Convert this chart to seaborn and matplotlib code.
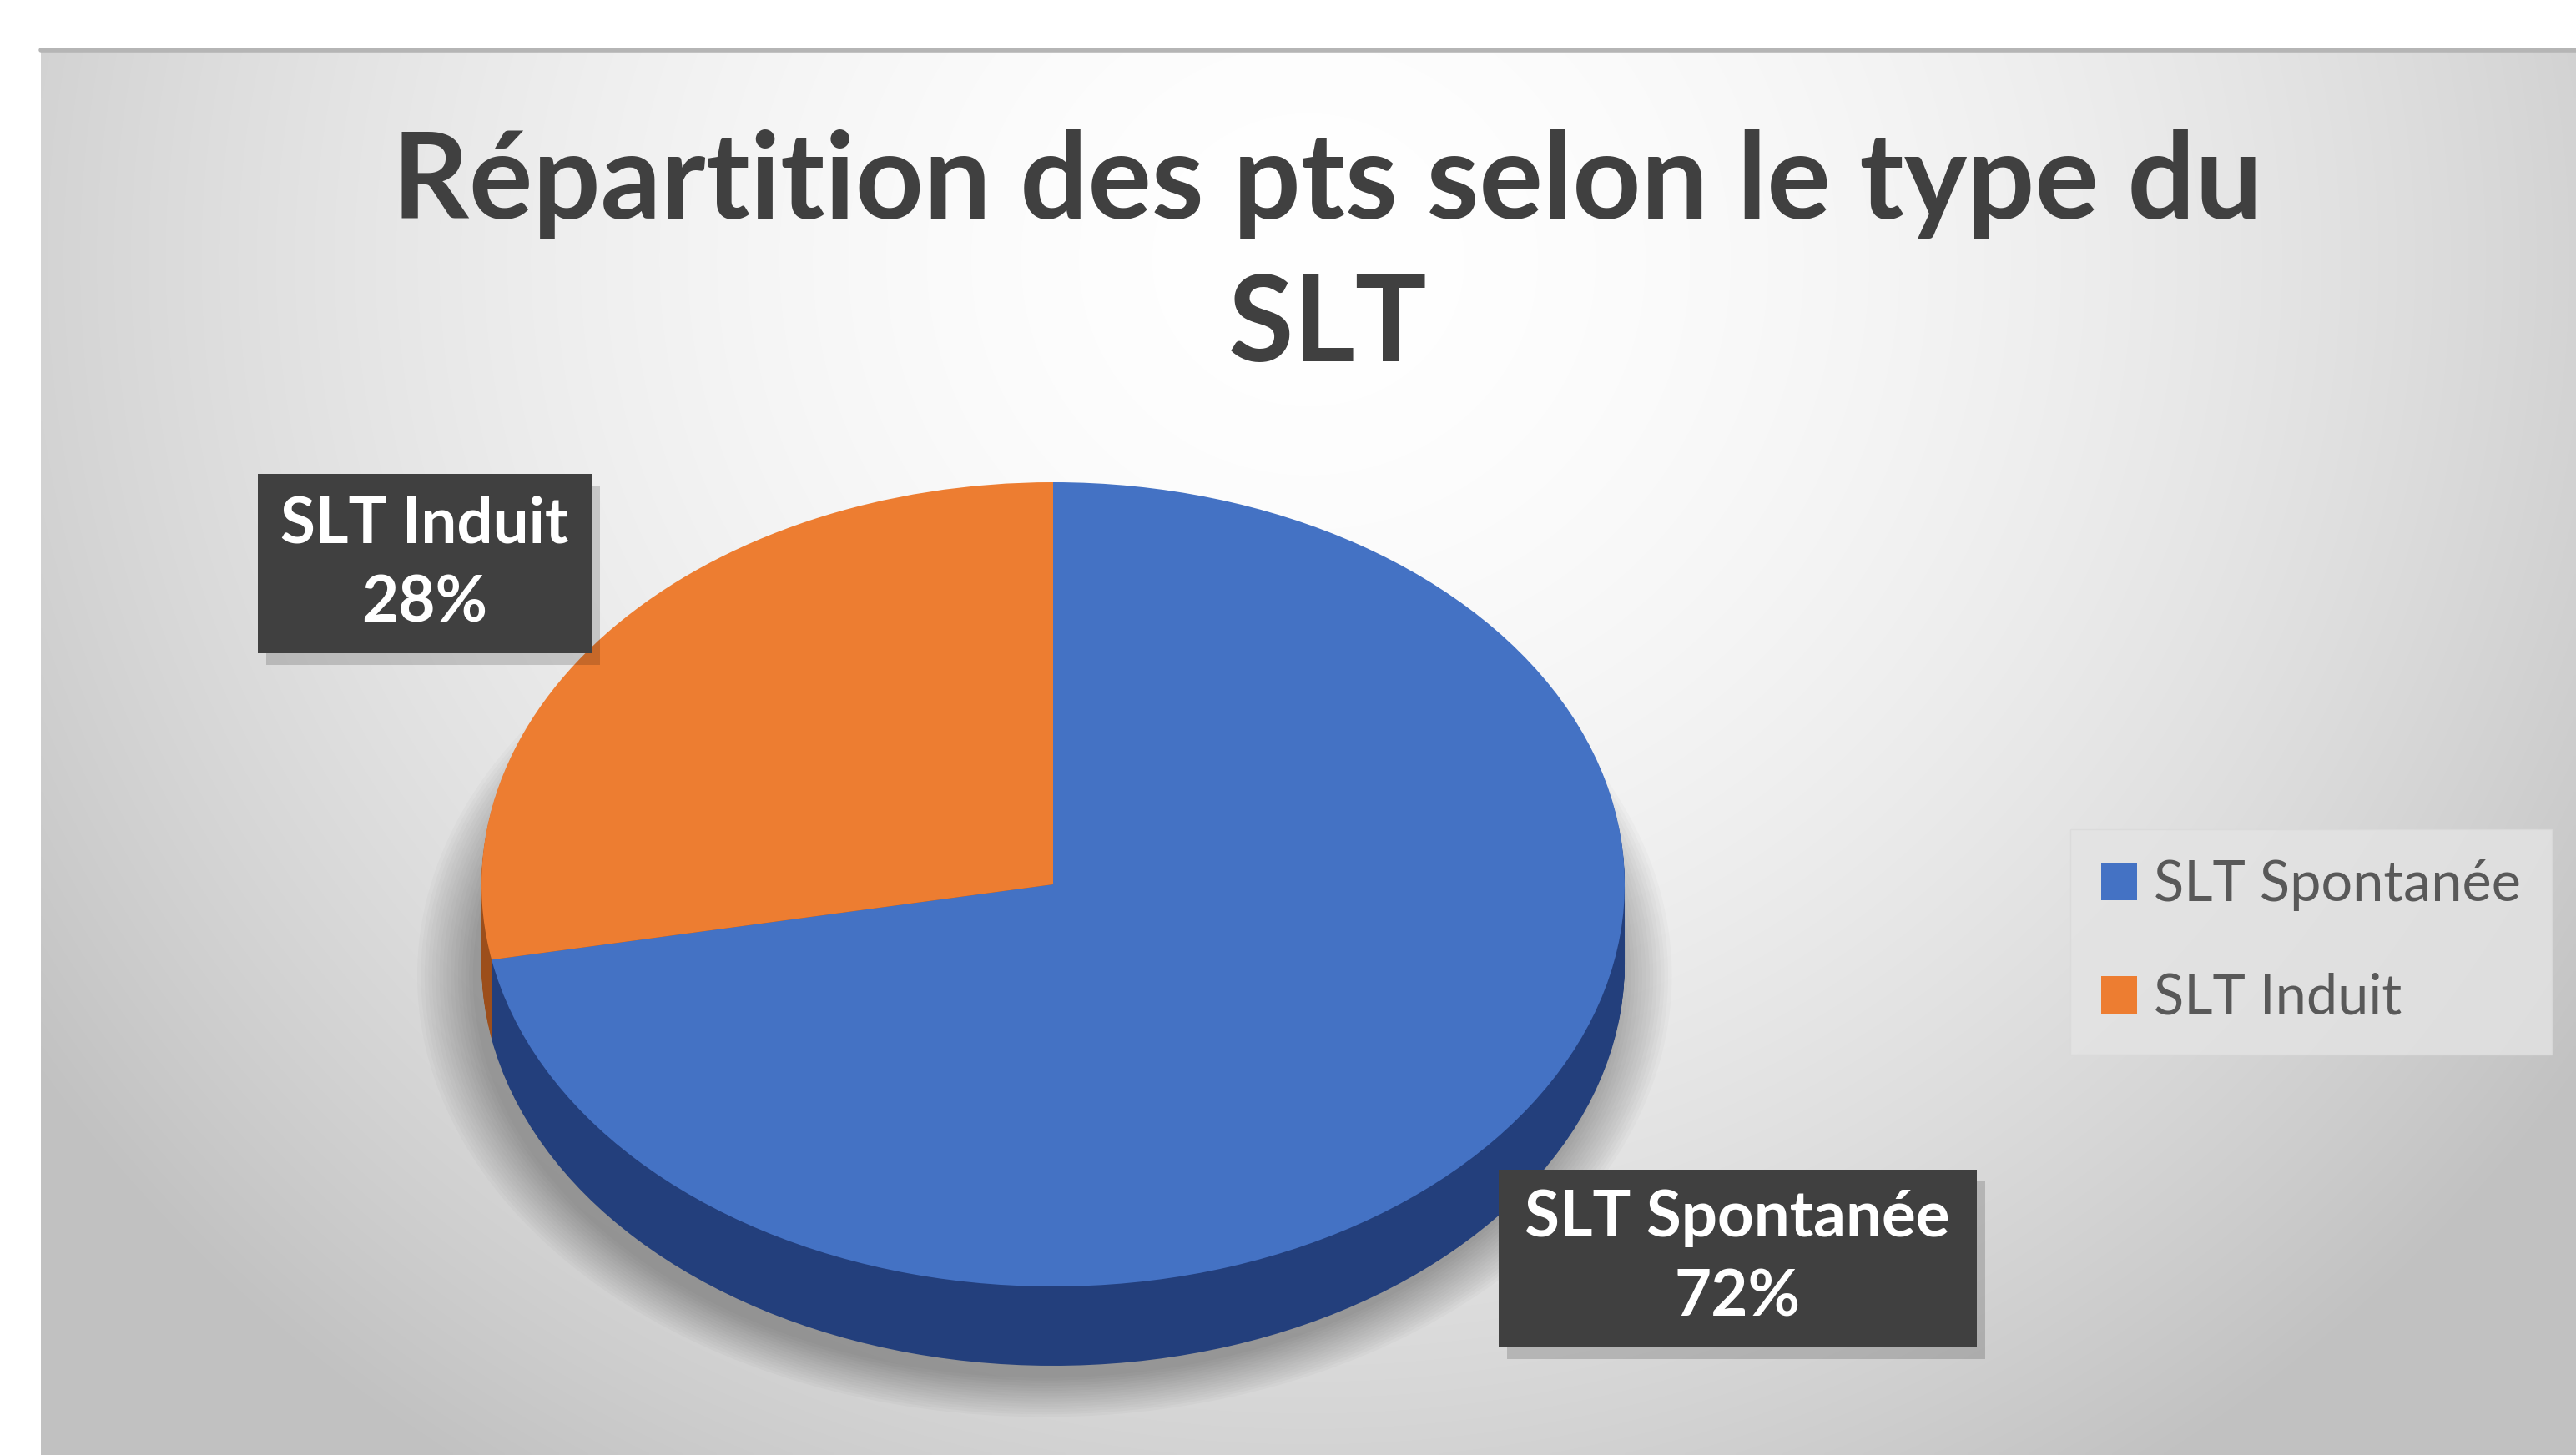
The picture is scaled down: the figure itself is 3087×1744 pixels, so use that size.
import numpy as np
import matplotlib
matplotlib.use("Agg")
import matplotlib.pyplot as plt
import seaborn as sns
from matplotlib.patches import Rectangle

# ---- data ----
categories = ["SLT Spontanée", "SLT Induit"]
values = [72, 28]
top_colors = ["#4472C4", "#ED7D31"]
side_colors = ["#233f7c", "#9c4e1b"]
title_lines = ["Répartition des pts selon le type du", "SLT"]

sns.set_theme(style="white")
plt.rcParams["font.family"] = ["Lato", "DejaVu Sans"]
plt.rcParams["hatch.color"] = "#4e4e4e"

W, H = 3087, 1744
fig = plt.figure(figsize=(W / 100, H / 100), dpi=100)
fig.patch.set_facecolor("white")

# ---- gradient background of the chart area ----
bx0, by0 = 49, 57
bg = fig.add_axes([bx0 / W, 0, 1 - bx0 / W, (H - by0) / H])
ny, nx = 400, 700
yy, xx = np.mgrid[0:1:ny * 1j, 0:1:nx * 1j]
d = np.sqrt(((xx - 0.5) / 0.62) ** 2 + ((yy - 0.15) / 1.05) ** 2)
v = 1.0 - 0.25 * np.clip(d, 0, 1.3) ** 1.8
v = np.clip(v, 0.76, 1.0)
bg.imshow(np.dstack([v, v, v]), aspect="auto", interpolation="bilinear")
bg.set_axis_off()
fig.add_artist(plt.Line2D([bx0 / W, 1], [1 - (by0 + 3) / H] * 2,
                          transform=fig.transFigure, color="#b5b5b5", lw=4))

# ---- pie (3D look) ----
cx, cy, rx, ry = 1262, 1060, 685, 482
xl = (-1.05, 1.05)
yl = (-1.35, 1.05)
left = cx + xl[0] * rx
width = (xl[1] - xl[0]) * rx
top = cy - yl[1] * ry
height = (yl[1] - yl[0]) * ry
ax = fig.add_axes([left / W, 1 - (top + height) / H, width / W, height / H])
ax.patch.set_alpha(0)
t = 95 / ry

# soft shadow
for i in range(16):
    ax.pie([1], colors=["black"], radius=1.0 + 0.0065 * i,
           center=(-0.015, -t - 0.03),
           wedgeprops=dict(linewidth=0, alpha=0.02))

# side layers
nlay = 60
for k in range(nlay, 0, -1):
    off = t * k / nlay
    ax.pie(values, colors=side_colors, startangle=90, counterclock=False,
           center=(0, -off), wedgeprops=dict(linewidth=0))

wedges, _ = ax.pie(values, colors=top_colors, startangle=90, counterclock=False,
                   wedgeprops=dict(linewidth=0))
ax.set_aspect("auto")
ax.set_xlim(*xl)
ax.set_ylim(*yl)
ax.set_axis_off()

# ---- title ----
fig.text(1591 / W, 1 - 262 / H, title_lines[0], ha="center", va="baseline",
         fontsize=103, fontweight="bold", color="#404040")
fig.text(1591 / W, 1 - 433 / H, title_lines[1], ha="center", va="baseline",
         fontsize=103, fontweight="bold", color="#404040")

# ---- data labels ----
label_boxes = {"SLT Spontanée": (2082, 1508, 573, 213),
               "SLT Induit": (509, 676, 400, 215)}
for cat, val in zip(categories, values):
    bxc, byc, bw, bh = label_boxes[cat]
    fig.add_artist(Rectangle(((bxc - bw / 2 + 10) / W, 1 - (byc + bh / 2 + 14) / H),
                             bw / W, bh / H, transform=fig.transFigure,
                             facecolor="black", alpha=0.16, lw=0))
    fig.add_artist(Rectangle(((bxc - bw / 2) / W, 1 - (byc + bh / 2) / H),
                             bw / W, bh / H, transform=fig.transFigure,
                             facecolor="#404040", edgecolor="#404040", lw=0,
                             hatch=".."))
    fig.text(bxc / W, 1 - byc / H, f"{cat}\n{val}%", ha="center", va="center",
             color="white", fontsize=55, fontweight="bold", linespacing=1.45)

# ---- legend ----
leg = fig.legend(wedges, categories, loc="center left",
                 bbox_to_anchor=(2481 / W, 1 - 1129 / H),
                 bbox_transform=fig.transFigure, fontsize=48,
                 handlelength=0.65, handleheight=0.65, handletextpad=0.3,
                 labelspacing=1.1, frameon=True, borderpad=0.55,
                 borderaxespad=0, fancybox=False)
leg.get_frame().set_facecolor("#e4e4e4")
leg.get_frame().set_edgecolor("#dadada")
for txt in leg.get_texts():
    txt.set_color("#595959")

fig.savefig("out.png", dpi=100)
